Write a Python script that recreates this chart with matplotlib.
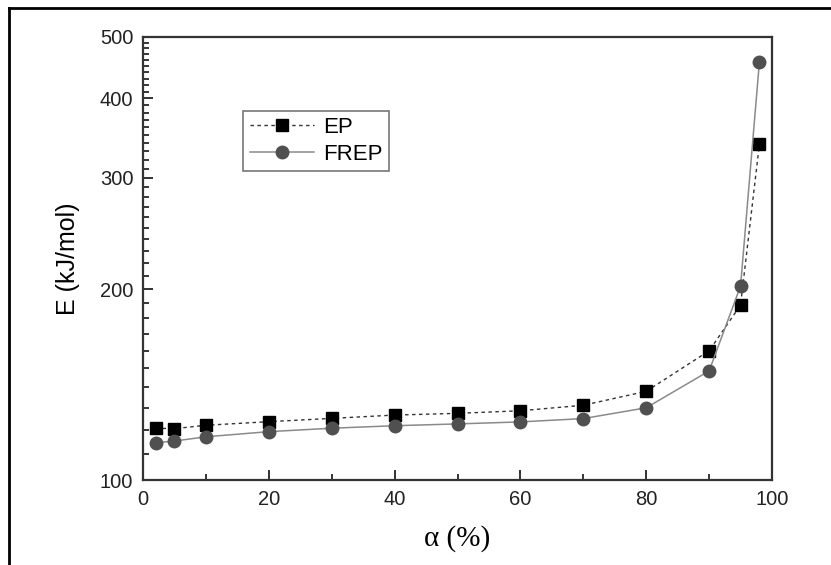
import numpy as np
import matplotlib
matplotlib.use("Agg")
import matplotlib.pyplot as plt
from matplotlib.ticker import FixedLocator, NullFormatter, ScalarFormatter
from matplotlib.lines import Line2D

# conversion degree alpha (%) and activation energy E (kJ/mol)
alpha = [2, 5, 10, 20, 30, 40, 50, 60, 70, 80, 90, 95, 98]
E_ep = [120.7, 120.5, 122.0, 123.6, 125.1, 126.6, 127.4, 128.6, 131.2, 138.0, 159.9, 188.8, 339.0]
E_frep = [114.5, 115.2, 117.0, 119.2, 120.7, 121.8, 122.6, 123.5, 125.0, 130.0, 148.6, 202.3, 457.0]

y_major = [100, 200, 300, 400, 500]
y_minor = [v for v in range(110, 500, 10) if v not in y_major]
x_major = [0, 20, 40, 60, 80, 100]
x_minor = [10, 30, 50, 70, 90]

fig = plt.figure(figsize=(8.31, 5.65), dpi=100)
ax = fig.add_axes([143/831, 85/565, 629/831, 443/565])

ax.plot(alpha, E_ep, color='#333333', linestyle=(0, (2.5, 2.5)), linewidth=1,
        marker='s', markersize=8.5, markerfacecolor='black', markeredgecolor='black', label='EP')
ax.plot(alpha, E_frep, color='#8a8a8a', linestyle='-', linewidth=1.1,
        marker='o', markersize=9, markerfacecolor='#505050', markeredgecolor='#505050', label='FREP')

ax.set_yscale('log')
ax.set_ylim(100, 500)
ax.set_xlim(0, 100)
ax.yaxis.set_major_locator(FixedLocator(y_major))
ax.yaxis.set_minor_locator(FixedLocator(y_minor))
ax.yaxis.set_major_formatter(ScalarFormatter())
ax.yaxis.set_minor_formatter(NullFormatter())
ax.xaxis.set_major_locator(FixedLocator(x_major))
ax.xaxis.set_minor_locator(FixedLocator(x_minor))

for s in ax.spines.values():
    s.set_linewidth(1.6)
    s.set_color('#333333')

ax.tick_params(which='major', direction='in', length=7, width=1.3, labelsize=14.5,
               top=False, right=False, pad=7, colors='#222222')
ax.tick_params(which='minor', direction='in', length=4, width=1.1, top=False, right=False)
for lab in ax.get_xticklabels() + ax.get_yticklabels():
    lab.set_fontfamily('Liberation Sans')

ax.set_ylabel('E (kJ/mol)', fontsize=18, family='Liberation Sans', labelpad=14)
ax.set_xlabel('\u03b1 (%)', fontsize=21, family='Liberation Serif', labelpad=12)

leg = ax.legend(loc='upper left', bbox_to_anchor=(0.159, 0.834), fancybox=False,
                framealpha=1, edgecolor='#777777', prop={'family': 'Liberation Sans', 'size': 16},
                handlelength=2.9, borderpad=0.3, labelspacing=0.25, handletextpad=0.4,
                borderaxespad=0)
leg.get_frame().set_linewidth(1.2)

# outer frame of the figure (left and top visible)
fig.add_artist(Line2D([9/831, 9/831], [0, 1 - 8/565], color='black', linewidth=2, transform=fig.transFigure))
fig.add_artist(Line2D([9/831, 1], [1 - 8/565, 1 - 8/565], color='black', linewidth=2, transform=fig.transFigure))

fig.savefig('out.png', dpi=100)
